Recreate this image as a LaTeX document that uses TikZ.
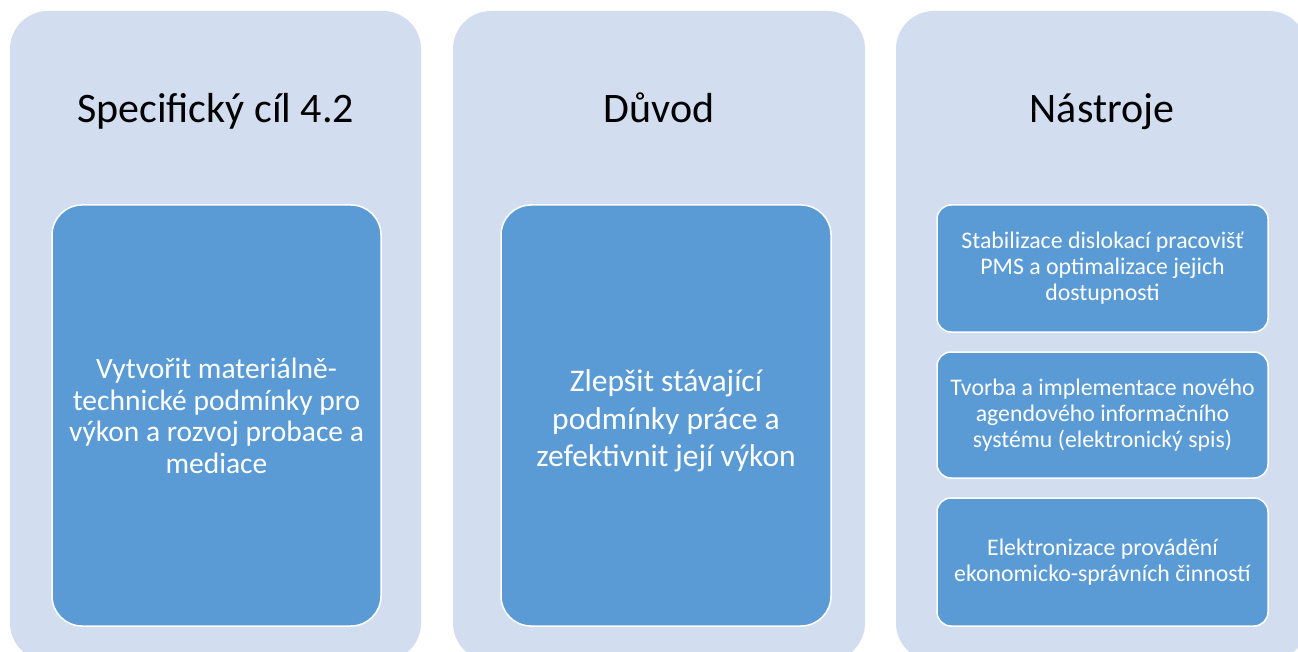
\documentclass[tikz,border=0pt]{standalone}
\usepackage{fontspec}
\setmainfont{Carlito}
\definecolor{outerbg}{HTML}{D2DEEF}
\definecolor{innerbg}{HTML}{5B9BD5}
\tikzset{
  outerbox/.style={fill=outerbg, draw=none, rounded corners=38pt, inner sep=0pt},
  bigbox/.style={fill=innerbg, draw=white, line width=1.5pt, rounded corners=30pt, inner sep=0pt},
  smallbox/.style={fill=innerbg, draw=white, line width=1.5pt, rounded corners=14pt, inner sep=0pt},
  titletext/.style={anchor=base, text=black, font=\fontsize{42}{50}\selectfont, inner sep=0pt},
  bigtext/.style={text=white, align=center, inner sep=0pt},
  smalltext/.style={text=white, align=center, inner sep=0pt, font=\fontsize{23.8}{26}\selectfont},
}
\begin{document}
\begin{tikzpicture}[x=1pt,y=-1pt]
\useasboundingbox (0,0) rectangle (1298,652);
\fill[white] (0,0) rectangle (1298,652);
\begin{scope}
\clip (0,0) rectangle (1298,652);
% outer columns
\node[outerbox, minimum width=411pt, minimum height=650pt] (c1) at (215.5,336) {};
\node[outerbox, minimum width=412pt, minimum height=650pt] (c2) at (659,336) {};
\node[outerbox, minimum width=411pt, minimum height=650pt] (c3) at (1101.5,336) {};
% titles
\node[titletext] (t1) at (215.5,123) {Specifický cíl 4.2};
\node[titletext] (t2) at (659,123) {Důvod};
\node[titletext] (t3) at (1102,123) {Nástroje};
% big inner boxes
\node[bigbox, minimum width=329pt, minimum height=421pt] (b1) at (216.5,415.5) {};
\node[bigbox, minimum width=330pt, minimum height=421pt] (b2) at (666,415.5) {};
\node[bigtext, font=\fontsize{29.5}{31.7}\selectfont] (x1) at (216.5,416)
  {Vytvořit materiálně-\\technické podmínky pro\\výkon a rozvoj probace a\\mediace};
\node[bigtext, font=\fontsize{31.5}{37.5}\selectfont] (x2) at (666,421)
  {Zlepšit stávající\\podmínky práce a\\zefektivnit její výkon};
% small boxes in column 3
\node[smallbox, minimum width=331pt, minimum height=127pt] (s1) at (1102.5,268.5) {};
\node[smallbox, minimum width=331pt, minimum height=126pt] (s2) at (1102.5,415) {};
\node[smallbox, minimum width=331pt, minimum height=128pt] (s3) at (1102.5,562) {};
\node[smalltext] (y1) at (s1) {Stabilizace dislokací pracovišť\\PMS a optimalizace jejich\\dostupnosti};
\node[smalltext] (y2) at (s2) {Tvorba a implementace nového\\agendového informačního\\systému (elektronický spis)};
\node[smalltext] (y3) at (s3) {Elektronizace provádění\\ekonomicko-správních činností};
\end{scope}
\end{tikzpicture}
\end{document}
